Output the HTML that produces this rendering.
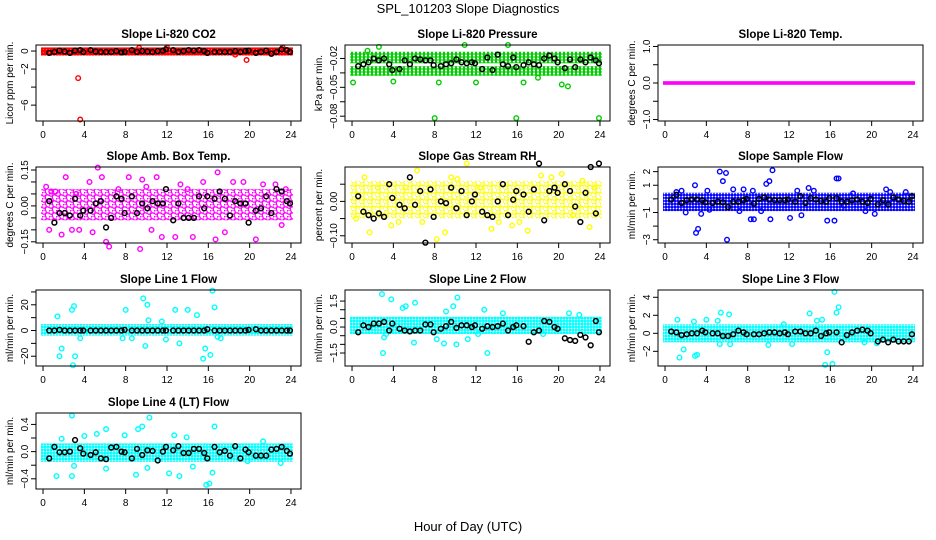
<!DOCTYPE html>
<html><head><meta charset="utf-8"><style>
html,body{margin:0;padding:0;background:#fff;}
svg{display:block;font-family:"Liberation Sans",sans-serif;}
</style></head><body>
<svg id="chart" width="936" height="540" viewBox="0 0 936 540" xmlns="http://www.w3.org/2000/svg">
<defs>
<pattern id="pd-red" width="3" height="3" patternUnits="userSpaceOnUse"><rect width="3" height="3" fill="#ff0000"/><circle cx="1.5" cy="1.5" r="0.5" fill="#ff8080"/></pattern>
<pattern id="pd-green" width="4" height="3" patternUnits="userSpaceOnUse"><circle cx="2" cy="1.5" r="1.8" fill="none" stroke="#00cd00" stroke-width="1.4"/></pattern>
<pattern id="pd-magenta" width="3" height="3" patternUnits="userSpaceOnUse"><rect width="3" height="3" fill="#ff00ff"/></pattern>
<pattern id="ps-magenta" width="7" height="6" patternUnits="userSpaceOnUse"><circle cx="2" cy="2" r="2.2" fill="none" stroke="#ff00ff" stroke-width="1.3"/><circle cx="5.5" cy="5" r="2.2" fill="none" stroke="#ff00ff" stroke-width="1.3"/></pattern>
<pattern id="ps-yellow" width="8" height="7" patternUnits="userSpaceOnUse"><circle cx="2" cy="2" r="2.2" fill="none" stroke="#ffff00" stroke-width="1.3"/><circle cx="6" cy="5.5" r="2.2" fill="none" stroke="#ffff00" stroke-width="1.3"/></pattern>
<pattern id="pd-blue" width="3" height="3" patternUnits="userSpaceOnUse"><circle cx="1.5" cy="1.5" r="1.6" fill="none" stroke="#0000ff" stroke-width="1.4"/></pattern>
<pattern id="pd-cyan" width="3" height="3" patternUnits="userSpaceOnUse"><circle cx="1.5" cy="1.5" r="1.6" fill="none" stroke="#00ffff" stroke-width="1.4"/></pattern>
</defs>
<text x="468" y="13" text-anchor="middle" font-size="13">SPL_101203  Slope Diagnostics</text>
<text x="468" y="531" text-anchor="middle" font-size="13">Hour of Day (UTC)</text>
</svg>
<script>
const blackX = [0.6,1.1,1.6,2.1,2.6,3.1,3.6,3.9,4.6,5.1,5.6,6.1,6.6,7.1,7.6,7.9,8.6,9.1,9.6,10.1,10.6,11.1,11.6,11.9,12.6,13.1,13.6,14.1,14.6,15.1,15.6,15.9,16.6,17.1,17.6,18.1,18.6,19.1,19.6,19.9,20.6,21.1,21.6,22.1,22.6,23.1,23.6,23.9];
const xTicks = [0,4,8,12,16,20,24];

const co2Black = [-0.2,-0.1,0.05,-0.05,-0.2,0.05,0.1,-0.1,0.1,-0.05,-0.1,-0.1,-0.1,0.0,-0.15,-0.1,0.1,-0.1,0.0,-0.05,-0.1,0.0,0.05,0.2,0.1,-0.1,0.0,0.1,0.05,0.1,0.0,-0.2,-0.1,-0.1,-0.1,-0.1,0.0,-0.1,0.0,0.05,-0.2,-0.1,0.05,-0.3,-0.1,0.2,0.1,-0.1];
const co2Out = [[3.4,-3.0],[3.6,-7.6],[19.7,-1.0],[18.6,-0.4],[9.3,0.35],[23.2,0.4],[12,0.4]];
const co2Band = [[-0.5,0.4]];

const presBlack = [-0.028,-0.026,-0.024,-0.020,-0.022,-0.020,-0.026,-0.032,-0.031,-0.022,-0.026,-0.020,-0.021,-0.022,-0.022,-0.027,-0.028,-0.026,-0.025,-0.021,-0.024,-0.025,-0.024,-0.025,-0.031,-0.019,-0.032,-0.016,-0.026,-0.028,-0.019,-0.029,-0.027,-0.024,-0.026,-0.027,-0.020,-0.017,-0.020,-0.024,-0.030,-0.021,-0.029,-0.021,-0.024,-0.019,-0.022,-0.025];
const presOut = [[0.1,-0.045],[8,-0.082],[15.9,-0.082],[23.9,-0.082],[20.3,-0.047],[20.9,-0.049],[8.4,-0.045],[16.6,-0.045],[2.6,-0.008],[10.9,-0.006],[15.1,-0.006],[1.5,-0.012],[4,-0.044],[12,-0.045],[18,-0.04]];
const presBand = [[-0.025,-0.013],[-0.038,-0.028]];

const tempBlack = [];
const tempOut = [];
const tempBand = [[-0.05,0.05]];

const ambBlack = [0.02,-0.07,-0.03,-0.03,-0.04,0.03,-0.04,-0.02,-0.02,0.01,0.02,-0.09,-0.05,0.04,0.03,-0.03,0.04,-0.03,0.01,-0.01,0.02,0.01,0.01,0.07,-0.06,0.01,-0.05,-0.05,-0.05,0.04,-0.01,0.04,0.03,0.06,0.03,-0.04,0.02,0.01,0.01,-0.07,-0.02,-0.01,0.04,-0.03,0.07,0.06,0.02,0.01];
const ambOut = [[0.3,0.08],[0.8,0.06],[1.2,0.06],[0.6,-0.1],[1.8,-0.12],[2.2,0.12],[2.8,-0.1],[3.5,-0.1],[4.5,0.1],[4.8,-0.11],[5.3,0.16],[5.7,0.12],[6.1,-0.15],[6.4,-0.17],[7.3,0.07],[8.3,0.12],[9.4,-0.18],[10,0.08],[10.5,-0.1],[11,0.12],[11.5,-0.13],[12.8,-0.13],[13.3,0.09],[14.5,-0.13],[14,0.07],[16.9,0.14],[16.7,-0.14],[17.6,-0.11],[18.4,0.1],[19.4,0.1],[20.6,-0.14],[21.3,0.09],[22.5,0.09],[23.1,-0.08],[23.5,0.07],[3.2,0.05],[15.5,0.1],[9.6,0.11]];
const ambBand = [[-0.06,0.07]];

const rhBlack = [0.015,-0.03,-0.04,-0.05,-0.035,-0.045,0.05,0.01,-0.01,-0.02,0.07,-0.01,0.03,-0.12,0.035,-0.045,0.0,-0.005,0.04,-0.02,0.03,-0.04,0.0,0.02,-0.03,-0.04,-0.045,0.0,0.05,-0.04,0.005,0.03,0.02,-0.03,0.035,0.11,-0.055,0.03,0.04,0.025,0.05,0.03,-0.015,-0.06,0.025,0.1,-0.035,0.11];
const rhOut = [[0.4,-0.05],[1.7,-0.09],[1.2,0.07],[2.5,0.04],[3.8,-0.07],[5.2,0.04],[6.3,0.09],[6.8,-0.06],[8.2,-0.11],[9,-0.09],[9.6,0.07],[11.1,0.11],[12.4,0.04],[13.5,-0.08],[14.2,-0.06],[15.5,-0.07],[16.2,-0.06],[17,-0.085],[18.3,0.075],[19.3,0.07],[20.3,0.08],[21.4,-0.04],[22.3,0.06],[23,-0.075],[23.5,0.04],[4.5,-0.06],[10.2,0.065]];
const rhBand = [[-0.05,0.06]];

const sampBlack = [-0.05,0.3,-0.3,-0.1,-0.05,-0.05,-0.1,-0.25,-0.3,-0.2,-0.25,-0.6,-0.2,-0.2,-0.1,0.0,-0.35,0.0,0.1,-0.05,-0.1,-0.1,-0.1,-0.05,-0.2,0.2,-0.3,0.05,-0.05,-0.15,-0.2,0.05,0.05,-0.2,-0.2,-0.1,-0.05,-0.2,-0.3,0.0,-0.4,-0.1,-0.4,0.1,-0.05,-0.15,-0.2,0.2];
const sampOut = [[1.1,0.5],[2.9,1.0],[3.0,-2.5],[3.2,-2.2],[3.5,-1.1],[4.3,-0.8],[5.3,2.0],[5.9,1.9],[5.6,1.3],[6,-3.0],[6.6,0.7],[7.6,0.7],[8.3,-1.5],[8.6,-1.5],[8.5,0.6],[9.8,1.1],[10.1,1.3],[10.2,-1.5],[10.4,2.1],[12.1,-1.4],[13.2,-1.2],[13.9,0.8],[15.7,-1.6],[16.4,-1.6],[16.6,1.5],[16.8,1.5],[17.3,-0.5],[18.2,0.4],[20.3,-1.1],[21.4,0.7],[1.6,0.6],[4.1,0.6],[2.0,-1.0],[7.2,-0.9],[9.3,-0.9],[12.8,0.6],[14.4,0.6],[19.4,-0.9],[21.8,0.5],[23.3,0.5]];
const sampBand = [[-0.9,0.45]];

const l1Black = [0,0,0.5,0,0,0,0,0,0,0,0,0,0,0,0,0.5,0,0,0,0,0,0,0,0,0,0,0,0,0,0,0,1,0,0,0,0,0,0,0,0.5,1,0,0,0,0,0,0,0];
const l1Out = [[1.4,11],[1.6,-20],[1.8,-14],[2.8,16],[3.0,19],[2.9,-27],[3.1,-20],[8.0,16],[9.7,25],[10.1,20],[9.9,-12],[12.8,16],[13.2,-10],[14.0,16],[14.9,12],[15.5,-22],[15.7,-14],[16.2,-19],[16.4,31],[16.6,18],[16.9,-5],[10.2,8],[11.5,7],[7.7,-6],[8.6,-6],[11.9,-7],[17.2,-6],[3.6,-6]];
const l1Band = [[-4,5]];

const l2Black = [-0.3,0.1,0.0,0.2,0.2,0.3,-0.2,0.2,-0.1,-0.2,-0.25,-0.2,-0.2,0.15,0.15,-0.3,-0.1,0.05,0.3,-0.05,0.1,0.1,0.0,0.1,-0.1,0.05,0.0,0.05,0.2,-0.2,0.0,0.1,0.05,-0.85,-0.3,-0.2,0.35,0.3,0.0,-0.1,-0.65,-0.75,-0.8,-0.45,-0.6,-1.05,0.35,-0.3];
const l2Out = [[2.9,1.9],[3.0,-1.5],[3.1,-0.6],[3.3,-0.4],[3.8,1.6],[4.9,1.1],[5.2,1.2],[6.0,-0.9],[6.1,1.4],[8.2,-0.7],[8.9,-0.95],[9.1,0.9],[9.8,1.2],[10.1,-1.0],[10.2,1.7],[12.8,1.0],[13.1,-1.5],[11.2,-0.7],[12.2,-0.4],[14.6,0.8],[18.5,-0.4],[21.0,0.8],[22.0,0.7]];
const l2Band = [[-0.4,0.6]];

const l3Black = [0.2,0.1,-0.2,-0.1,0.0,0.0,0.3,0.1,0.0,0.0,-0.3,-0.3,-0.1,0.3,0.1,-0.1,-0.1,-0.1,0.0,0.1,0.1,0.0,0.1,-0.1,0.2,0.2,0.0,0.0,0.3,-0.3,0.0,0.1,0.1,-1.0,-0.2,0.1,0.3,0.4,0.3,0.0,-0.9,-0.7,-1.0,-0.7,-0.9,-0.9,-0.9,-0.1];
const l3Out = [[1.2,1.5],[1.4,-2.7],[1.8,-1.8],[2.9,-2.5],[3.1,-2.4],[2.8,1.3],[4.0,1.5],[5.1,1.4],[5.4,2.3],[6.2,2.1],[5.3,-1.2],[6.3,-1.2],[10,-1.3],[12.3,-1.2],[14,2.2],[14.7,1.4],[15.2,1.5],[15.5,-3.5],[15.7,-2.1],[16.4,4.6],[16.2,-3.4],[16.6,2.3],[16.8,2.9],[11.5,1.0],[20.5,-1.1],[19.3,-1.0]];
const l3Band = [[-1.0,1.0]];

const l4Black = [-0.1,0.07,-0.01,-0.01,0.0,0.17,0.05,-0.03,-0.05,-0.01,-0.1,-0.11,0.06,0.07,0.0,-0.01,-0.1,0.04,-0.05,0.02,0.01,-0.13,0.0,0.07,0.02,0.08,-0.02,-0.02,0.04,0.04,-0.02,-0.1,0.07,-0.01,0.01,-0.06,0.08,-0.1,0.03,-0.01,-0.06,-0.06,-0.06,0.03,0.04,0.07,0.01,-0.03];
const l4Out = [[1.3,-0.36],[1.8,0.19],[2.8,0.53],[2.8,-0.36],[3.0,-0.21],[4.0,0.23],[5.2,0.26],[6.1,0.33],[6.1,-0.25],[7.9,0.24],[9.0,-0.34],[9.2,0.33],[9.6,0.37],[10.3,0.5],[10.1,-0.24],[12.2,-0.32],[12.7,0.24],[13.2,-0.36],[13.9,0.21],[15.8,-0.49],[16.1,-0.47],[16.4,-0.31],[16.6,0.37],[19.8,-0.14],[21.3,0.15],[23.0,-0.17],[14.5,-0.22]];
const l4Band = [[-0.15,0.12]];

const panels = [
 {name:'co2',title:'Slope Li-820 CO2',ylab:'Licor ppm per min.',col:0,row:0,color:'#ff0000',pat:'pd-red',dom:[-7.76,0.67],ticks:[0,-2,-4,-6],labels:['0','-2','','-6'],black:co2Black,out:co2Out,band:co2Band},
 {name:'pressure',title:'Slope Li-820 Pressure',ylab:'kPa per min.',col:1,row:0,color:'#00cd00',pat:'pd-green',dom:[-0.085,-0.006],ticks:[-0.02,-0.035,-0.05,-0.065,-0.08],labels:['-0.02','','-0.05','','-0.08'],black:presBlack,out:presOut,band:presBand},
 {name:'temp',title:'Slope Li-820 Temp.',ylab:'degrees C per min.',col:2,row:0,color:'#ff00ff',pat:'pd-magenta',dom:[-1.04,1.04],ticks:[1,0.5,0,-0.5,-1],labels:['1.0','','0.0','','-1.0'],black:tempBlack,out:tempOut,band:tempBand},
 {name:'amb-box-temp',title:'Slope Amb. Box Temp.',ylab:'degrees C per min.',col:0,row:1,color:'#ff00ff',pat:'ps-magenta',dom:[-0.155,0.1625],ticks:[0.15,0.1,0.05,0,-0.05,-0.1,-0.15],labels:['0.15','','','0.00','','','-0.15'],black:ambBlack,out:ambOut,band:ambBand},
 {name:'gas-rh',title:'Slope Gas Stream RH',ylab:'percent per min.',col:1,row:1,color:'#ffff00',pat:'ps-yellow',dom:[-0.121,0.10],ticks:[0.05,0,-0.05,-0.1],labels:['','0.00','','-0.10'],black:rhBlack,out:rhOut,band:rhBand},
 {name:'sample-flow',title:'Slope Sample Flow',ylab:'ml/min per min.',col:2,row:1,color:'#0000ff',pat:'pd-blue',dom:[-3.24,2.34],ticks:[2,1,0,-1,-2,-3],labels:['2','1','','-1','','-3'],black:sampBlack,out:sampOut,band:sampBand},
 {name:'line1-flow',title:'Slope Line 1 Flow',ylab:'ml/min per min.',col:0,row:2,color:'#00ffff',pat:'pd-cyan',dom:[-27.6,31.5],ticks:[30,20,10,0,-10,-20],labels:['','20','','0','','-20'],black:l1Black,out:l1Out,band:l1Band},
 {name:'line2-flow',title:'Slope Line 2 Flow',ylab:'ml/min per min.',col:1,row:2,color:'#00ffff',pat:'pd-cyan',dom:[-2.25,2.14],ticks:[1.5,1,0.5,0,-0.5,-1,-1.5],labels:['1.5','','','0.0','','','-1.5'],black:l2Black,out:l2Out,band:l2Band},
 {name:'line3-flow',title:'Slope Line 3 Flow',ylab:'ml/min per min.',col:2,row:2,color:'#00ffff',pat:'pd-cyan',dom:[-3.63,4.81],ticks:[4,2,0,-2],labels:['4','2','0','-2'],black:l3Black,out:l3Out,band:l3Band},
 {name:'line4-flow',title:'Slope Line 4 (LT) Flow',ylab:'ml/min per min.',col:0,row:3,color:'#00ffff',pat:'pd-cyan',dom:[-0.55,0.568],ticks:[0.4,0.2,0,-0.2,-0.4],labels:['0.4','','0.0','','-0.4'],black:l4Black,out:l4Out,band:l4Band}
];

const NS='http://www.w3.org/2000/svg';
const svg=document.getElementById('chart');
const colX=[36,345,658], rowY=[45,167,290,413], W=265, H=76;
const XMIN=-0.68, XMAX=24.97;
function mk(tag,attrs,parent){const e=document.createElementNS(NS,tag);for(const k in attrs)e.setAttribute(k,attrs[k]);parent.appendChild(e);return e;}

panels.forEach(p=>{
  const x0=colX[p.col], y0=rowY[p.row];
  const sx=v=>x0+(v-XMIN)/(XMAX-XMIN)*W;
  const sy=v=>y0+H-(v-p.dom[0])/(p.dom[1]-p.dom[0])*H;
  const g=mk('g',{},svg);
  
  
  const t=mk('text',{x:x0+W/2,y:y0-7,'text-anchor':'middle','font-size':'11.5','font-weight':'bold'},g);
  t.textContent=p.title;
  
  
  p.band.forEach(b=>{
    const r=mk('rect',{x:sx(0)-2,y:sy(b[1]),width:sx(24)-sx(0)+4,height:sy(b[0])-sy(b[1]),fill:'url(#'+p.pat+')'},g);
    
    
  });
  p.out.forEach(o=>{
    const c=mk('circle',{cx:sx(o[0]),cy:sy(o[1]),r:2.3,fill:'none',stroke:p.color,'stroke-width':1.4},g);
    
    
  });
  p.black.forEach((v,i)=>{
    const c=mk('circle',{cx:sx(blackX[i]),cy:sy(v),r:2.4,fill:'none',stroke:'#000','stroke-width':1.5},g);
    
    
  });
  const box=mk('rect',{x:x0,y:y0,width:W,height:H,fill:'none',stroke:'#000','stroke-width':1},g);
  
  
  const xa=mk('line',{x1:sx(0),x2:sx(24),y1:y0+H,y2:y0+H,stroke:'#000'},g);
  
  
  xTicks.forEach(v=>{
    mk('line',{x1:sx(v),x2:sx(v),y1:y0+H,y2:y0+H+5,stroke:'#000'},g);
    const tl=mk('text',{x:sx(v),y:y0+H+17,'text-anchor':'middle','font-size':'10'},g);
    tl.textContent=v;
    
    
  });
  const ya=mk('line',{x1:x0,x2:x0,y1:sy(p.ticks[0]),y2:sy(p.ticks[p.ticks.length-1]),stroke:'#000'},g);
  
  
  p.ticks.forEach((v,i)=>{
    const y=sy(v);
    mk('line',{x1:x0-5,x2:x0,y1:y,y2:y,stroke:'#000'},g);
    if(p.labels[i]){
      const tl=mk('text',{x:x0-8,y:y,'text-anchor':'middle','font-size':'10',transform:'rotate(-90 '+(x0-8)+' '+y+')'},g);
      tl.textContent=p.labels[i].replace('-','\u2212');
      
      
    }
  });
  const yl=mk('text',{x:x0-23,y:y0+H/2,'text-anchor':'middle','font-size':'10',transform:'rotate(-90 '+(x0-23)+' '+(y0+H/2)+')'},g);
  yl.textContent=p.ylab;
  
  
});
</script>
</body></html>
